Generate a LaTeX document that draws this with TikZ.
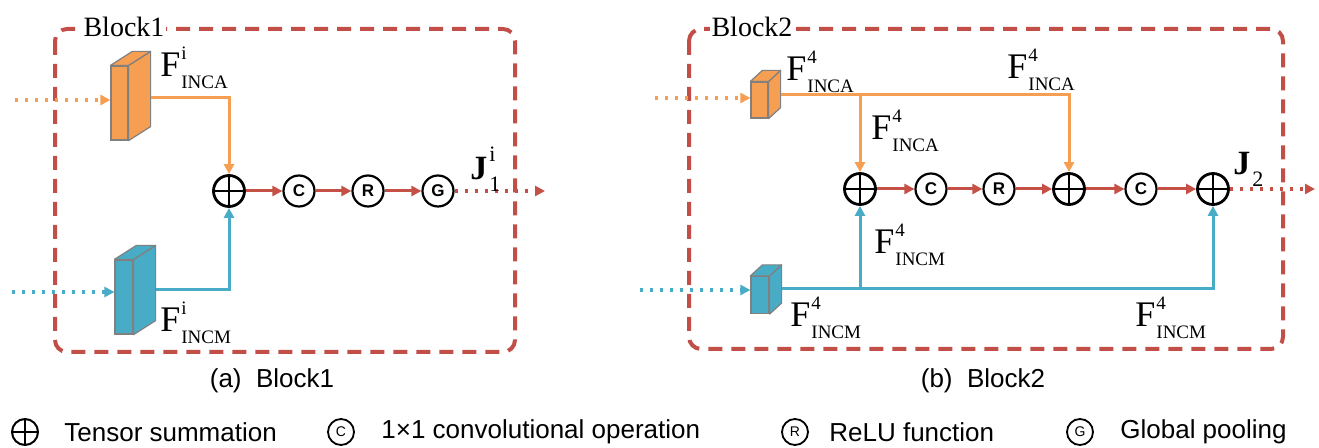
\documentclass[tikz,border=0pt]{standalone}
\usepackage{fontspec}
\setmainfont{Liberation Serif}
\setsansfont{Liberation Sans}
\usetikzlibrary{positioning,arrows.meta,calc}
\definecolor{naranja}{RGB}{246,158,82}
\definecolor{azul}{RGB}{72,172,198}
\definecolor{rojo}{RGB}{196,80,70}
\definecolor{borde}{RGB}{194,78,72}
\definecolor{gris}{RGB}{128,128,128}
% F with stacked super- and subscript
\newcommand{\flab}[2]{F\kern0.5pt\rlap{\raisebox{8.6pt}{\fontsize{9.5}{10}\selectfont #1}}%
  \raisebox{-6pt}{\fontsize{9.5}{10}\selectfont #2}}
\newcommand{\jlab}[2]{\textbf{J}\kern1pt\rlap{\raisebox{9pt}{\fontsize{11}{11}\selectfont #1}}%
  \raisebox{-6pt}{\fontsize{11}{11}\selectfont #2}}
% 3D look of a feature box: side and top faces
\newcommand{\cubo}[4]{%
  \filldraw[#2, draw=gris, line width=0.6pt, line join=round]
    (#1.north east) -- ++(#3,-#4) -- ($(#1.south east)+(#3,-#4)$) -- (#1.south east) -- cycle;
  \filldraw[#2, draw=gris, line width=0.6pt, line join=round]
    (#1.north west) -- ++(#3,-#4) -- ($(#1.north east)+(#3,-#4)$) -- (#1.north east) -- cycle;}

\begin{document}
\begin{tikzpicture}[x=0.5pt, y=-0.5pt,
  marco/.style={draw=borde, line width=2pt, dash pattern=on 7pt off 4.5pt, rounded corners=6pt},
  blq/.style={fill=white, inner sep=1pt, font=\fontsize{14}{14}\selectfont},
  cara/.style={draw=gris, line width=0.6pt, inner sep=0pt},
  suma/.style={circle, draw, line width=1.4pt, minimum size=15.5pt, inner sep=0pt,
    path picture={\draw[line width=1.4pt] (path picture bounding box.north) -- (path picture bounding box.south)
      (path picture bounding box.west) -- (path picture bounding box.east);}},
  oper/.style={circle, draw, line width=1.1pt, minimum size=15.5pt, inner sep=0pt,
    font=\sffamily\bfseries\fontsize{8.5}{9}\selectfont},
  flecha/.style={line width=1.5pt, -{Triangle[length=5pt,width=5pt]}},
  puntos/.style={line width=1.6pt, dash pattern=on 1.6pt off 3.4pt, -{Triangle[length=5pt,width=5pt]}},
  etf/.style={anchor=base west, inner sep=0pt, font=\fontsize{18}{20}\selectfont},
  pie/.style={font=\sffamily\fontsize{13}{13}\selectfont},
  leyenda/.style={anchor=west, inner sep=0pt, font=\sffamily\fontsize{13}{13}\selectfont}
]
\useasboundingbox (0,0) rectangle (1319,448);

% Block1
\draw[marco] (55,29) rectangle (515,352);
\node[blq] (b1) at (124,27) {Block1};
\node[cara, fill=naranja, minimum width=8.5pt, minimum height=37pt] (fa1) at (119.5,103) {};
\cubo{fa1}{naranja}{22}{14}
\node[cara, fill=azul, minimum width=9pt, minimum height=37pt] (fm1) at (124,297) {};
\cubo{fm1}{azul}{22}{14}
\node[suma] (s1) at (229,191) {};
\node[oper] (c1) at (299,191) {C};
\node[oper] (r1) at (368,191) {R};
\node[oper] (g1) at (438,191) {G};
\coordinate (ia1) at (15,100);
\coordinate (im1) at (12,292);
\coordinate (fa1o) at ($(fa1.east)+(22,-5)$);
\coordinate (fm1o) at ($(fm1.east)+(22,-7)$);
\coordinate (o1) at (545,191);
\draw[puntos, naranja] (ia1) -- (ia1 -| fa1.west);
\draw[puntos, azul] (im1) -- (im1 -| fm1.west);
\draw[flecha, naranja] (fa1o) -| (s1.north);
\draw[flecha, azul] (fm1o) -| (s1.south);
\draw[flecha, rojo] (s1) -- (c1);
\draw[flecha, rojo] (c1) -- (r1);
\draw[flecha, rojo] (r1) -- (g1);
\draw[puntos, rojo] (g1) -- (o1);
\node[etf] (la1) at (160,77) {\flab{i}{INCA}};
\node[etf] (lm1) at (160,332) {\flab{i}{INCM}};
\node[etf, font=\fontsize{17}{18}\selectfont] (j1) at (470,180) {\jlab{i}{1}};

% Block2
\draw[marco] (689,29) rectangle (1283,349);
\node[blq] (b2) at (752,27) {Block2};
\node[cara, fill=naranja, minimum width=8.5pt, minimum height=18pt] (fa2) at (759.5,100) {};
\cubo{fa2}{naranja}{12}{11}
\node[cara, fill=azul, minimum width=9pt, minimum height=18.5pt] (fm2) at (760,295) {};
\cubo{fm2}{azul}{12}{11}
\node[suma] (s21) at (860,189) {};
\node[oper] (c21) at (931,189) {C};
\node[oper] (r2) at (999,189) {R};
\node[suma] (s22) at (1069,189) {};
\node[oper] (c22) at (1141,189) {C};
\node[suma] (s23) at (1213,189) {};
\coordinate (ia2) at (655,98);
\coordinate (im2) at (640,290);
\coordinate (fa2o) at ($(fa2.east)+(12,-5)$);
\coordinate (fm2o) at ($(fm2.east)+(12,-6)$);
\coordinate (o2) at (1315,189);
\draw[puntos, naranja] (ia2) -- (ia2 -| fa2.west);
\draw[puntos, azul] (im2) -- (im2 -| fm2.west);
\draw[flecha, naranja] (fa2o) -| (s22.north);
\draw[flecha, naranja] (fa2o -| s21) -- (s21.north);
\draw[flecha, azul] (fm2o) -| (s23.south);
\draw[flecha, azul] (fm2o -| s21) -- (s21.south);
\draw[flecha, rojo] (s21) -- (c21);
\draw[flecha, rojo] (c21) -- (r2);
\draw[flecha, rojo] (r2) -- (s22);
\draw[flecha, rojo] (s22) -- (c22);
\draw[flecha, rojo] (c22) -- (s23);
\draw[puntos, rojo] (s23) -- (o2);
\node[etf] (la21) at (786,81) {\flab{4}{INCA}};
\node[etf] (la22) at (1007,79) {\flab{4}{INCA}};
\node[etf] (la23) at (871,140) {\flab{4}{INCA}};
\node[etf] (lm21) at (874,254) {\flab{4}{INCM}};
\node[etf] (lm22) at (790,327) {\flab{4}{INCM}};
\node[etf] (lm23) at (1135,327) {\flab{4}{INCM}};
\node[etf, font=\fontsize{17}{18}\selectfont] (j2) at (1233,175) {\jlab{}{2}};

% captions
\node[pie] (pa) at (272,381) {(a)\ \ Block1};
\node[pie] (pb) at (983,381) {(b)\ \ Block2};

% legend
\node[suma, minimum size=13pt, line width=1pt] (ks) at (25,432) {};
\node[leyenda] (kst) at (64,432) {Tensor summation};
\node[oper, minimum size=13pt, line width=0.9pt, font=\sffamily\fontsize{7}{7}\selectfont] (kc) at (341,432) {C};
\node[leyenda] (kct) at (381,432) {1×1 convolutional operation};
\node[oper, minimum size=13pt, line width=0.9pt, font=\sffamily\fontsize{7}{7}\selectfont] (kr) at (795,432) {R};
\node[leyenda] (krt) at (829,432) {ReLU function};
\node[oper, minimum size=13pt, line width=0.9pt, font=\sffamily\fontsize{7}{7}\selectfont] (kg) at (1080,432) {G};
\node[leyenda] (kgt) at (1120,432) {Global pooling};
\end{tikzpicture}
\end{document}
